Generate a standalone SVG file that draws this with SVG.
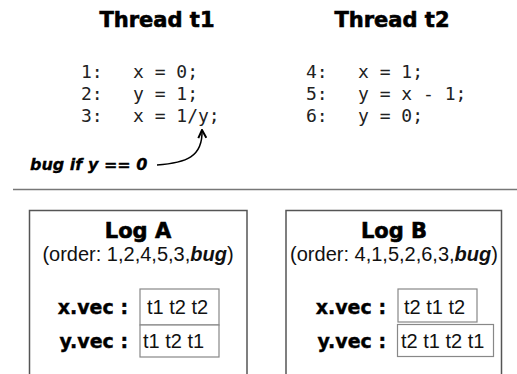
<svg xmlns="http://www.w3.org/2000/svg" width="517" height="374" viewBox="0 0 517 374">
<style>
.title{font-family:"DejaVu Sans",sans-serif;font-weight:bold;font-size:21px;fill:#000;stroke:#000;stroke-width:0.6;text-anchor:middle}
.code{font-family:"DejaVu Sans Mono",monospace;font-size:18px;fill:#222}
.sub{font-family:"Liberation Sans",Arial,sans-serif;font-size:20px;fill:#111;text-anchor:middle}
.lbl{font-family:"DejaVu Sans",sans-serif;font-weight:bold;font-size:19px;fill:#000;stroke:#000;stroke-width:0.4;text-anchor:end}
.val{font-family:"Liberation Sans",Arial,sans-serif;font-size:20px;fill:#111}
.bug{font-family:"DejaVu Sans",sans-serif;font-weight:bold;font-style:italic;font-size:16px;fill:#000;stroke:#000;stroke-width:0.3}
.box{fill:#fff;stroke:#555;stroke-width:1.5}
.cell{fill:#fff;stroke:#888;stroke-width:1.2}
.conn{fill:none;stroke:#000;stroke-width:1.5}
</style>
<defs>
<marker id="arr" viewBox="0 0 10 10" refX="9" refY="5" markerWidth="10" markerHeight="10" markerUnits="userSpaceOnUse" orient="auto">
<path d="M1,1 L9,5 L1,9" fill="none" stroke="#000" stroke-width="2"/>
</marker>
</defs>
<rect width="517" height="374" fill="#fff"/>
<g id="thread-t1">
<text class="title" x="157" y="27">Thread t1</text>
<text class="code" x="81" y="78">1:</text><text class="code" x="133" y="78">x = 0;</text>
<text class="code" x="81" y="100">2:</text><text class="code" x="133" y="100">y = 1;</text>
<text class="code" x="81" y="122">3:</text><text class="code" x="133" y="122">x = 1/y;</text>
</g>
<g id="thread-t2">
<text class="title" x="392" y="27">Thread t2</text>
<text class="code" x="306" y="78">4:</text><text class="code" x="358" y="78">x = 1;</text>
<text class="code" x="306" y="100">5:</text><text class="code" x="358" y="100">y = x - 1;</text>
<text class="code" x="306" y="122">6:</text><text class="code" x="358" y="122">y = 0;</text>
</g>
<g id="bug-note">
<text class="bug" x="30" y="170">bug if y == 0</text>
</g>
<g id="connectors">
<path class="conn" d="M157,165 C186,163 203,157 202,130" marker-end="url(#arr)"/>
</g>
<line x1="13" y1="189.5" x2="517" y2="189.5" stroke="#777" stroke-width="1.5"/>
<g id="log-a">
<path class="box" d="M29.5,380 V210.5 H247 V380"/>
<text class="title" x="138" y="238">Log A</text>
<text class="sub" x="138" y="261">(order: 1,2,4,5,3,<tspan font-weight="bold" font-style="italic">bug</tspan>)</text>
<text class="lbl" x="128" y="314">x.vec :</text>
<rect class="cell" x="140" y="289" width="79" height="36"/>
<text class="val" x="147" y="314">t1 t2 t2</text>
<text class="lbl" x="128" y="348">y.vec :</text>
<rect class="cell" x="140" y="325" width="79" height="32"/>
<text class="val" x="143" y="348">t1 t2 t1</text>
</g>
<g id="log-b">
<path class="box" d="M286,380 V210.5 H501.5 V380"/>
<text class="title" x="394" y="238">Log B</text>
<text class="sub" x="394" y="261">(order: 4,1,5,2,6,3,<tspan font-weight="bold" font-style="italic">bug</tspan>)</text>
<text class="lbl" x="386" y="314">x.vec :</text>
<rect class="cell" x="398" y="289" width="79" height="33"/>
<text class="val" x="404" y="314">t2 t1 t2</text>
<text class="lbl" x="386" y="348">y.vec :</text>
<rect class="cell" x="397.5" y="324.5" width="96" height="32"/>
<text class="val" x="401" y="348">t2 t1 t2 t1</text>
</g>
</svg>
